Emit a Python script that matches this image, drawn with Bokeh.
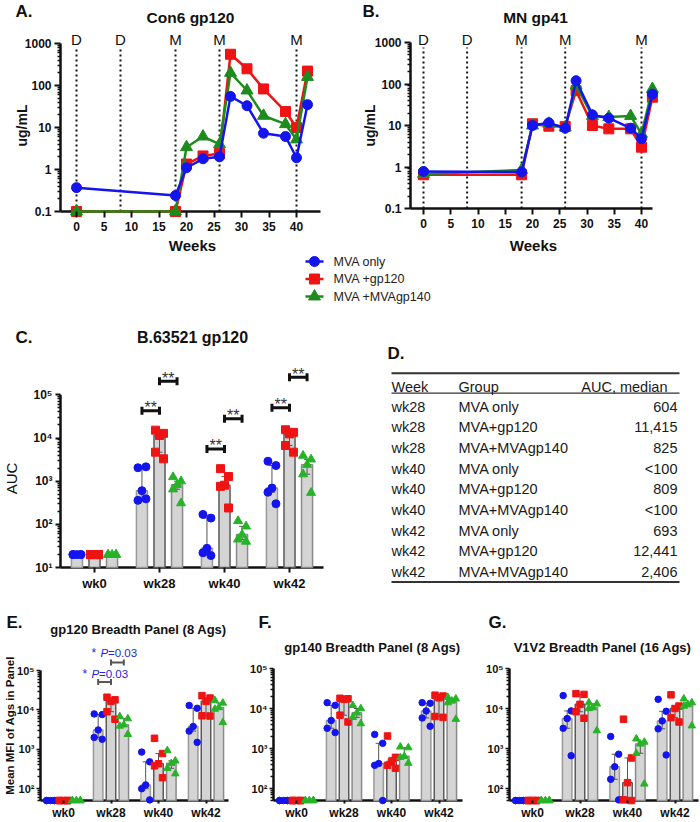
import math
import numpy as np
from bokeh.plotting import figure
from bokeh.models import Range1d, FixedTicker, Label
from bokeh.layouts import column, row
from bokeh.embed import file_html
from bokeh.resources import INLINE
from bokeh.core.properties import value

FONT = "Liberation Sans"
INK = "#111111"
BLUE = "#1414ee"
RED = "#ee1414"
GREEN_LINE = "#1d8c1d"
GREEN_PT = "#27b327"
BAR_FILL = "#d4d4d4"
BAR_LINES = ["#9a9a9a", "#5a5a5a", "#8a8a8a"]
SIG_BLUE = "#2424dd"

# ---------------- data ----------------
weeks = [0, 18, 20, 23, 26, 28, 31, 34, 38, 40, 42]
boost_weeks = [0, 8, 18, 26, 40]
boost_labels = ["D", "D", "M", "M", "M"]
legend_labels = ["MVA only", "MVA +gp120", "MVA +MVAgp140"]

con6_mva = [0.37, 0.24, 1.1, 1.8, 2.0, 55, 33, 7.3, 6.1, 1.9, 35]
con6_gp120 = [0.1, 0.1, 1.35, 2.1, 2.4, 555, 250, 83, 24, 10, 220]
con6_gp140 = [0.1, 0.1, 3.4, 6.1, 4.0, 200, 76, 19, 12, 5.2, 160]

mn_mva = [0.78, 0.76, 10, 11.6, 8.6, 120, 18, 15, 8.6, 4.8, 57]
mn_gp120 = [0.65, 0.65, 11, 9.6, 9.5, 69, 10, 8.3, 8.3, 3.0, 48]
mn_gp140 = [0.68, 0.85, 10, 11, 9, 91, 17, 16, 17, 6.3, 76]

week_ticks = [0, 5, 10, 15, 20, 25, 30, 35, 40]
ug_ticks = [0.1, 1, 10, 100, 1000]
ug_tick_labels = ["0.1", "1", "10", "100", "1000"]

timepoints = ["wk0", "wk28", "wk40", "wk42"]
auc_ticks = [10, 100, 1000, 10000, 100000]
auc_tick_labels = ["10¹", "10²", "10³", "10⁴", "10⁵"]
mfi_ticks = [100, 1000, 10000, 100000]
mfi_tick_labels = ["10²", "10³", "10⁴", "10⁵"]
mfi_floor = 50

auc_mva = [[20, 20, 20, 20, 20], [2050, 2150, 604, 360, 390],
           [170, 140, 28, 22, 19], [2900, 2300, 693, 555, 300]]
auc_gp120 = [[20, 20, 20, 20, 20], [15200, 12800, 11415, 4700, 3300],
             [1950, 1280, 809, 760, 240], [15500, 13500, 12441, 6700, 4700]]
auc_gp140 = [[20, 20, 20, 20, 20], [1250, 1000, 825, 650, 310],
             [120, 90, 58, 45, 40], [3900, 3200, 2406, 1450, 540]]
auc_sig_pairs = [(1, 0, 1), (1, 1, 2), (2, 0, 1), (2, 1, 2), (3, 0, 1), (3, 1, 2)]
auc_sig_heights = [43000, 206000, 5600, 27800, 50000, 256000]

tbl_header = ["Week", "Group", "AUC, median"]
tbl_week = ["wk28", "wk28", "wk28", "wk40", "wk40", "wk40", "wk42", "wk42", "wk42"]
tbl_group = ["MVA only", "MVA+gp120", "MVA+MVAgp140"] * 3
tbl_auc = ["604", "11,415", "825", "<100", "809", "<100", "693", "12,441", "2,406"]

gp120_mva = [[50] * 5, [7900, 7600, 3100, 2000, 1800], [850, 480, 125, 100, 52], [13000, 11000, 3800, 2900, 1500]]
gp120_gp120 = [[50] * 5, [21000, 18000, 16500, 9000, 5800], [1900, 780, 430, 380, 190], [23000, 20000, 16500, 7100, 7000]]
gp120_gp140 = [[50] * 5, [6800, 6000, 4200, 3900, 2400], [930, 510, 440, 330, 240], [17500, 15000, 11500, 10500, 4800]]
gp120_sig_pairs = [(1, 0, 1), (1, 1, 2)]
gp120_sig_heights = [51000, 160000]
gp120_sig_p = ["=0.03", "=0.03"]

gp140_mva = [[50] * 5, [14000, 12000, 5000, 3200, 2500], [2250, 1350, 420, 380, 50], [14000, 13500, 8700, 5800, 3600]]
gp140_gp120 = [[50] * 5, [18000, 17500, 17000, 6800, 4600], [2050, 600, 470, 380, 320], [21500, 20500, 18500, 6300, 6000]]
gp140_gp140 = [[50] * 5, [12000, 10000, 7800, 6000, 4200], [1100, 1050, 640, 600, 430], [19000, 17500, 15500, 14000, 5400]]

v1v2_mva = [[50] * 5, [21000, 8700, 5600, 3200, 660], [2000, 720, 350, 170, 52], [17000, 8500, 4900, 3100, 690]]
v1v2_gp120 = [[50] * 5, [23500, 22500, 12700, 8300, 5700], [5400, 580, 140, 52, 50], [22000, 11500, 10000, 5900, 4600]]
v1v2_gp140 = [[50] * 5, [14000, 13000, 10500, 10000, 2800], [1750, 1450, 1300, 760, 130], [17500, 14000, 12500, 11500, 3700]]

JITTER_PX = [-4, 4, 0, -4, 4]


# ---------------- helpers ----------------
def log_minor(lo, hi, floor=None):
    out = []
    for e in range(lo, hi):
        for m in range(2, 10):
            v = m * 10 ** e
            if floor is None or v >= floor:
                out.append(v)
    return out


class Panel:
    """A figure whose plotting frame is the whole figure; axes are pinned with fixed_location."""

    def __init__(self, box, x0_px=None, x_unit_px=None, y_anchor_px=None, y_anchor=None,
                 dec_px=None, xr=None, yr=None, log=True):
        bx0, by0, bx1, by1 = box
        self.box, self.log = box, log
        if xr is None:
            xr = ((bx0 - x0_px) / x_unit_px, (bx1 - x0_px) / x_unit_px)
        if yr is None:
            a = math.log10(y_anchor)
            yr = (10 ** (a - (by1 - y_anchor_px) / dec_px), 10 ** (a + (y_anchor_px - by0) / dec_px))
        self.xr, self.yr = xr, yr
        p = figure(width=bx1 - bx0, height=by1 - by0,
                   x_range=Range1d(*xr), y_range=Range1d(*yr),
                   y_axis_type="log" if log else "linear",
                   output_backend="svg", toolbar_location=None,
                   min_border_left=0, min_border_right=0, min_border_top=0, min_border_bottom=0)
        p.outline_line_color = None
        p.grid.visible = False
        p.background_fill_color = "white"
        p.border_fill_color = "white"
        self.p = p

    def X(self, px):
        bx0, by0, bx1, by1 = self.box
        return self.xr[0] + (px - bx0) / (bx1 - bx0) * (self.xr[1] - self.xr[0])

    def upx(self):
        bx0, by0, bx1, by1 = self.box
        return (self.xr[1] - self.xr[0]) / (bx1 - bx0)

    def dec_px(self):
        bx0, by0, bx1, by1 = self.box
        return (by1 - by0) / (math.log10(self.yr[1]) - math.log10(self.yr[0]))

    def Y(self, py):
        bx0, by0, bx1, by1 = self.box
        t = (by1 - py) / (by1 - by0)
        if self.log:
            a, b = math.log10(self.yr[0]), math.log10(self.yr[1])
            return 10 ** (a + t * (b - a))
        return self.yr[0] + t * (self.yr[1] - self.yr[0])

    def label(self, px, py, text, size, bold=False, italic=False, align="left",
              baseline="middle", color=INK, angle=0.0):
        style = "normal"
        if bold and italic:
            style = "bold italic"
        elif bold:
            style = "bold"
        elif italic:
            style = "italic"
        self.p.add_layout(Label(x=self.X(px), y=self.Y(py), text=text, text_font=FONT,
                                text_font_size=f"{size}px", text_font_style=style,
                                text_align=align, text_baseline=baseline,
                                text_color=color, angle=angle))


def style_axis(ax, loc, ticks, labels, minor=(), size=12, bold=True, tick_out=5,
               minor_out=3, standoff=3, width=2):
    ax.fixed_location = loc
    ax.ticker = FixedTicker(ticks=list(ticks), minor_ticks=list(minor))
    ax.major_label_overrides = dict(zip(ticks, labels))
    ax.axis_line_color = None
    ax.major_tick_line_color = INK
    ax.major_tick_line_width = width
    ax.major_tick_in = 0
    ax.major_tick_out = int(tick_out)
    if minor:
        ax.minor_tick_line_color = INK
        ax.minor_tick_line_width = 1.5
        ax.minor_tick_in = 0
        ax.minor_tick_out = int(minor_out)
    else:
        ax.minor_tick_line_color = None
    ax.major_label_text_font = FONT
    ax.major_label_text_font_size = f"{size}px"
    ax.major_label_text_font_style = "bold" if bold else "normal"
    ax.major_label_text_color = INK
    ax.major_label_standoff = int(standoff)


# ---------------- panels A / B ----------------
def time_panel(box, wk0_px, px_per_wk, axis_px, axis_end_px, top_px, dec, sets):
    P = Panel(box, x0_px=wk0_px, x_unit_px=px_per_wk, y_anchor_px=top_px, y_anchor=1000, dec_px=dec)
    p = P.p
    ax0, ax1 = P.X(axis_px), P.X(axis_end_px)
    lo, hi = ug_ticks[0], ug_ticks[-1]
    p.segment(x0=[ax0, ax0], y0=[lo, lo], x1=[ax1, ax0], y1=[lo, hi],
              line_color=INK, line_width=2.5)
    n = len(boost_weeks)
    p.segment(x0=boost_weeks, y0=[lo] * n, x1=boost_weeks, y1=[P.Y(47)] * n,
              line_color=INK, line_width=2, line_dash="2 3")
    p.text(x=boost_weeks, y=[P.Y(39)] * n, text=boost_labels, text_font=value(FONT),
           text_font_size="15px", text_align="center", text_baseline="middle",
           text_color=INK)
    for vals, color, marker, size in sets:
        p.line(weeks, vals, line_color=color, line_width=2.5)
        p.scatter(weeks, vals, marker=marker, size=size, fill_color=color, line_color=color)
    style_axis(p.xaxis[0], lo, week_ticks, [str(t) for t in week_ticks], size=12,
               tick_out=6, standoff=4)
    style_axis(p.yaxis[0], ax0, ug_ticks, ug_tick_labels, minor=log_minor(-1, 3), size=12,
               tick_out=6, minor_out=3, standoff=3)
    return P


pa = time_panel((0, 0, 350, 254), 76, 5.5, 60, 320, 43, 42,
                [(con6_gp120, RED, "square", 10), (con6_gp140, GREEN_LINE, "triangle", 12),
                 (con6_mva, BLUE, "circle", 10)])
pa.label(15, 11, "A.", 17, bold=True)
pa.label(190, 17, "Con6 gp120", 15.5, bold=True, align="center")
pa.label(21, 125, "ug/mL", 14, bold=True, align="center", angle=math.pi / 2)
pa.label(192, 245, "Weeks", 15, bold=True, align="center")

pb = time_panel((350, 0, 700, 254), 423, 5.45, 410, 652, 42, 41.5,
                [(mn_gp120, RED, "square", 10), (mn_gp140, GREEN_LINE, "triangle", 12),
                 (mn_mva, BLUE, "circle", 10)])
pb.label(362, 11, "B.", 17, bold=True)
pb.label(535, 17, "MN gp41", 15.5, bold=True, align="center")
pb.label(369, 125, "ug/mL", 14, bold=True, align="center", angle=math.pi / 2)
pb.label(533, 245, "Weeks", 15, bold=True, align="center")

# ---------------- legend strip ----------------
pl = Panel((0, 254, 700, 305), xr=(0, 700), yr=(305, 254), log=False)
pl.p.xaxis.visible = False
pl.p.yaxis.visible = False
leg_y = [261, 278.5, 296]
leg_colors = [BLUE, RED, GREEN_LINE]
leg_markers = ["circle", "square", "triangle"]
leg_sizes = [10, 10, 12]
pl.p.segment(x0=[305] * 3, y0=leg_y, x1=[323] * 3, y1=leg_y, line_color=leg_colors, line_width=2.5)
pl.p.scatter(x=[314] * 3, y=leg_y, marker=leg_markers, size=leg_sizes,
             fill_color=leg_colors, line_color=leg_colors)
pl.p.text(x=[333] * 3, y=leg_y, text=legend_labels, text_font=value(FONT),
          text_font_size="12.5px", text_baseline="middle", text_color="#222222")


# ---------------- bar panels ----------------
def bar_panel(P, sets, offs, bar_w, msize, base, axis_x0, axis_x1, top_val):
    p = P.p
    u = P.upx()
    ng = len(timepoints)
    p.segment(x0=[axis_x0, axis_x0], y0=[base, base], x1=[axis_x1, axis_x0], y1=[base, top_val],
              line_color=INK, line_width=2.5)
    for gi, (vals, color, marker) in enumerate(sets):
        xs = [i + offs[gi] for i in range(ng)]
        med = [float(np.median(v)) for v in vals]
        p.vbar(x=xs, width=bar_w, bottom=base, top=med, fill_color=BAR_FILL,
               line_color=BAR_LINES[gi], line_width=1.5)
    cap = 3 * u
    for gi, (vals, color, marker) in enumerate(sets):
        xs = [i + offs[gi] for i in range(ng)]
        q1 = [float(np.percentile(v, 25)) for v in vals]
        q3 = [float(np.percentile(v, 75)) for v in vals]
        p.segment(x0=xs, y0=q1, x1=xs, y1=q3, line_color="#555555", line_width=1)
        p.segment(x0=[x - cap for x in xs] * 2, y0=q1 + q3, x1=[x + cap for x in xs] * 2,
                  y1=q1 + q3, line_color="#555555", line_width=1)
    for gi, (vals, color, marker) in enumerate(sets):
        px, py = [], []
        for i, v in enumerate(vals):
            for j, val in enumerate(v):
                px.append(i + offs[gi] + JITTER_PX[j % len(JITTER_PX)] * u)
                py.append(val)
        p.scatter(px, py, marker=marker, size=msize + (1 if marker == "triangle" else 0),
                  fill_color=color, line_color=color)


def brackets(P, pairs, heights, offs, color, width, cap_px):
    p = P.p
    f = 10 ** (cap_px / P.dec_px())
    x0 = [g + offs[i] for g, i, j in pairs]
    x1 = [g + offs[j] for g, i, j in pairs]
    p.segment(x0=x0, y0=heights, x1=x1, y1=heights, line_color=color, line_width=width)
    p.segment(x0=x0 + x1, y0=[h / f for h in heights] * 2, x1=x0 + x1,
              y1=[h * f for h in heights] * 2, line_color=color, line_width=width)
    return x0, x1


# Panel C
pc = Panel((0, 305, 350, 600), x0_px=94, x_unit_px=65, y_anchor_px=394.3, y_anchor=1e5, dec_px=43.2)
c_offs = [-0.27, 0.0, 0.27]
bar_panel(pc, [(auc_mva, BLUE, "circle"), (auc_gp120, RED, "square"), (auc_gp140, GREEN_PT, "triangle")],
          c_offs, 0.17, 8, auc_ticks[0], pc.X(60), pc.X(323), auc_ticks[-1])
bx0, bx1 = brackets(pc, auc_sig_pairs, auc_sig_heights, c_offs, INK, 3, 4)
pc.p.text(x=[(a + b) / 2 for a, b in zip(bx0, bx1)],
          y=[h * 10 ** (3 / pc.dec_px()) for h in auc_sig_heights], text=["**"] * len(auc_sig_heights),
          text_font=value(FONT), text_font_size="16px", text_align="center",
          text_baseline="alphabetic", text_color="#333333")
style_axis(pc.p.xaxis[0], auc_ticks[0], [0, 1, 2, 3], timepoints, size=13, tick_out=5, standoff=3)
style_axis(pc.p.yaxis[0], pc.X(60), auc_ticks, auc_tick_labels, minor=log_minor(1, 5), size=12,
           tick_out=5, minor_out=3, standoff=3)
pc.label(15, 337, "C.", 17, bold=True)
pc.label(192, 337, "B.63521 gp120", 16, bold=True, align="center")
pc.label(11, 478, "AUC", 15, align="center", angle=math.pi / 2)

# Panel D (table)
pd_ = Panel((350, 305, 700, 600), xr=(350, 700), yr=(600, 305), log=False)
pd_.p.xaxis.visible = False
pd_.p.yaxis.visible = False
pd_.label(387, 353, "D.", 17, bold=True)
pd_.p.segment(x0=[391, 391, 391], y0=[372.7, 392.7, 581.5], x1=[679, 679, 679],
              y1=[372.7, 392.7, 581.5], line_color="#333333", line_width=[2, 1.3, 2])
tfs = "14.5px"
pd_.p.text(x=[391, 458], y=[386, 386], text=tbl_header[:2], text_font=value(FONT),
           text_font_size=tfs, text_baseline="middle", text_color="#1a1a1a")
pd_.p.text(x=[667], y=[386], text=tbl_header[2:], text_font=value(FONT),
           text_font_size=tfs, text_baseline="middle", text_align="right", text_color="#1a1a1a")
row_y = [406 + 20.7 * i for i in range(len(tbl_week))]
pd_.p.text(x=[391] * len(row_y), y=row_y, text=tbl_week, text_font=value(FONT),
           text_font_size=tfs, text_baseline="middle", text_color="#1a1a1a")
pd_.p.text(x=[458] * len(row_y), y=row_y, text=tbl_group, text_font=value(FONT),
           text_font_size=tfs, text_baseline="middle", text_color="#1a1a1a")
pd_.p.text(x=[677] * len(row_y), y=row_y, text=tbl_auc, text_font=value(FONT),
           text_font_size=tfs, text_baseline="middle", text_align="right", text_color="#1a1a1a")

# Panels E, F, G
efg_offs = [-0.27, 0.0, 0.27]


def mfi_panel(box, axis_px, wk0_px, axis_end_px, top_px, dec, sets):
    P = Panel(box, x0_px=wk0_px, x_unit_px=47.5, y_anchor_px=top_px, y_anchor=1e5, dec_px=dec)
    ax0 = P.X(axis_px)
    bar_panel(P, sets, efg_offs, 0.2, 6.5, mfi_floor, ax0, P.X(axis_end_px), mfi_ticks[-1])
    style_axis(P.p.xaxis[0], mfi_floor, [0, 1, 2, 3], timepoints, size=12, tick_out=3, standoff=2)
    style_axis(P.p.yaxis[0], ax0, mfi_ticks, mfi_tick_labels, minor=log_minor(1, 5, floor=mfi_floor),
               size=11, tick_out=4, minor_out=3, standoff=2, width=1.5)
    return P


pe = mfi_panel((0, 600, 236, 821), 40, 63, 228, 670, 39.4,
               [(gp120_mva, BLUE, "circle"), (gp120_gp120, RED, "square"), (gp120_gp140, GREEN_PT, "triangle")])
brackets(pe, gp120_sig_pairs, gp120_sig_heights, efg_offs, "#555555", 2, 3)
pe.label(6, 622, "E.", 17, bold=True)
pe.label(138, 629, "gp120 Breadth Panel (8 Ags)", 13, bold=True, align="center")
pe.label(9, 725, "Mean MFI of Ags in Panel", 11.5, bold=True, align="center", angle=math.pi / 2)
for (sx, px_, ex, yy), ptxt in zip([(82, 91, 98.5, 673), (91, 100, 107.5, 652)], gp120_sig_p):
    pe.label(sx, yy, "*", 12, color=SIG_BLUE)
    pe.label(px_, yy, "P", 11.5, italic=True, color=SIG_BLUE)
    pe.label(ex, yy, ptxt, 11.5, color=SIG_BLUE)

pf = mfi_panel((236, 600, 470, 821), 273, 296, 462, 668, 40,
               [(gp140_mva, BLUE, "circle"), (gp140_gp120, RED, "square"), (gp140_gp140, GREEN_PT, "triangle")])
pf.label(258, 622, "F.", 17, bold=True)
pf.label(372, 647, "gp140 Breadth Panel (8 Ags)", 13, bold=True, align="center")

pg = mfi_panel((470, 600, 700, 821), 509, 532, 698, 668, 40,
               [(v1v2_mva, BLUE, "circle"), (v1v2_gp120, RED, "square"), (v1v2_gp140, GREEN_PT, "triangle")])
pg.label(488, 622, "G.", 17, bold=True)
pg.label(602, 647, "V1V2 Breadth Panel (16 Ags)", 13, bold=True, align="center")

layout = column(row(pa.p, pb.p), pl.p, row(pc.p, pd_.p), row(pe.p, pf.p, pg.p))
open("out.html", "w").write(file_html(layout, INLINE, title="chart"))
